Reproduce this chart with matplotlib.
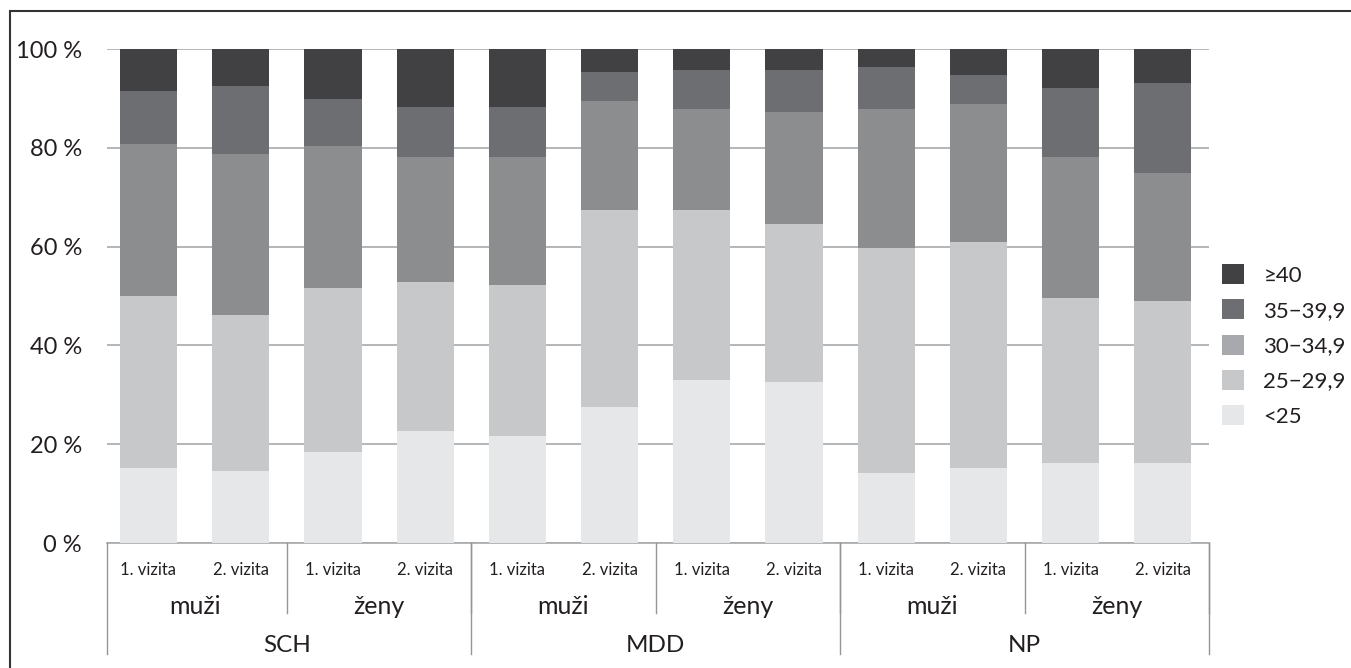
import numpy as np
import matplotlib.pyplot as plt
from matplotlib.patches import Patch, Rectangle

plt.rcParams["font.family"] = ["Lato", "DejaVu Sans"]

# Cumulative top of each BMI band (%), one value per bar
visits = ["1. vizita", "2. vizita"] * 6
genders = ["muži", "ženy"] * 3
groups = ["SCH", "MDD", "NP"]

cum_lt25 = [15.2, 14.6, 18.4, 22.7, 21.7, 27.5, 33.0, 32.6, 14.2, 15.2, 16.2, 16.2]
cum_25_29 = [50.1, 46.2, 51.6, 52.8, 52.2, 67.4, 67.4, 64.6, 59.7, 60.9, 49.6, 49.0]
cum_30_34 = [80.8, 78.7, 80.4, 78.1, 78.1, 89.5, 87.9, 87.2, 87.9, 88.9, 78.1, 74.9]
cum_35_39 = [91.5, 92.5, 89.9, 88.3, 88.3, 95.3, 95.7, 95.7, 96.4, 94.7, 92.1, 93.1]

band_labels = ["<25", "25\u221229,9", "30\u221234,9", "35\u221239,9", "\u226540"]
band_colors = ["#e6e7e8", "#c7c8ca", "#8c8d8f", "#6d6e71", "#414042"]
legend_colors = ["#e6e7e8", "#c7c8ca", "#a7a9ac", "#6d6e71", "#414042"]

cum = np.array([np.zeros(12), cum_lt25, cum_25_29, cum_30_34, cum_35_39, np.full(12, 100.0)])
heights = np.diff(cum, axis=0)

fig = plt.figure(figsize=(13.51, 6.68), dpi=100)
ax = fig.add_axes([107 / 1351, 1 - 543 / 668, (1209 - 107) / 1351, (543 - 49) / 668])

x = np.arange(12)
for k in range(5):
    ax.bar(x, heights[k], 0.62, bottom=cum[k], color=band_colors[k], zorder=3)

ax.set_xlim(-0.45, 11.5)
ax.set_ylim(0, 100)
ax.set_yticks([0, 20, 40, 60, 80, 100])
ax.set_yticklabels([f"{v} %" for v in [0, 20, 40, 60, 80, 100]], fontsize=17, color="#231f20")
ax.tick_params(axis="y", length=0, pad=18)
ax.set_xticks([])
for s in ax.spines.values():
    s.set_visible(False)
ax.grid(axis="y", color="#a7a9ac", linewidth=1.2, zorder=0)
ax.axhline(0, color="#a7a9ac", linewidth=1.2, zorder=1, clip_on=False)

tr = ax.get_xaxis_transform()
line_kw = dict(color="#939598", linewidth=1.0, transform=tr, clip_on=False)

for i, v in enumerate(visits):
    ax.text(i, -0.055, v, transform=tr, ha="center", va="center", fontsize=12, color="#231f20")
for j, g in enumerate(genders):
    ax.text(2 * j + 0.5, -0.128, g, transform=tr, ha="center", va="center", fontsize=18, color="#231f20")
    ax.plot([2 * j + 1.5, 2 * j + 1.5], [0, -0.142], **line_kw)
for j, g in enumerate(groups):
    ax.text(4 * j + 1.5, -0.207, g, transform=tr, ha="center", va="center", fontsize=17.5, color="#231f20")
for xb in [-0.45, 3.5, 7.5, 11.5]:
    ax.plot([xb, xb], [0, -0.225], **line_kw)

handles = [Patch(facecolor=c, edgecolor="none") for c in legend_colors]
leg = ax.legend(handles[::-1], band_labels[::-1], loc="center left", bbox_to_anchor=(1.012, 0.4),
                frameon=False, fontsize=16, handlelength=1.0, handleheight=1.0,
                labelspacing=0.62, handletextpad=0.85, borderpad=0, borderaxespad=0)
for t in leg.get_texts():
    t.set_color("#231f20")

# outer frame of the figure panel
fig.patches.append(Rectangle((10 / 1351, -0.1), 1.2, 1 - 11 / 668 + 0.1, transform=fig.transFigure,
                             fill=False, edgecolor="#333333", linewidth=1.5))

fig.savefig("out.png", dpi=100)
